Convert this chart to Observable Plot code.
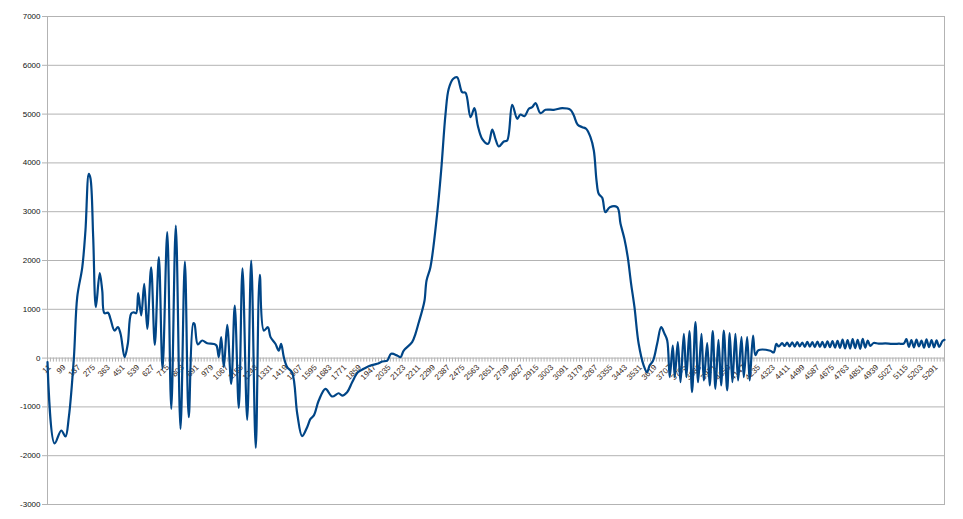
<!DOCTYPE html>
<html><head><meta charset="utf-8">
<script src="https://cdn.jsdelivr.net/npm/d3@7"></script>
<script src="https://cdn.jsdelivr.net/npm/@observablehq/plot@0.6"></script>
<style>body{margin:0;background:#fff}</style>
</head><body><div id="chart"></div>
<script>
const sampleIndex = [11,53,93,118,138,168,188,218,237,257,267,283,299,322,337,350,372,386,410,430,446,470,489,509,525,539,551,569,587,605,628,650,674,696,724,748,775,803,829,852,879,886,906,932,962,1001,1017,1031,1045,1061,1081,1105,1126,1150,1172,1200,1224,1251,1275,1299,1323,1339,1368,1388,1402,1418,1438,1468,1498,1527,1557,1577,1597,1626,1666,1706,1745,1766,1795,1825,1859,1894,1934,1974,2004,2034,2057,2093,2113,2132,2182,2202,2222,2242,2256,2268,2291,2331,2355,2381,2400,2427,2450,2480,2500,2530,2553,2573,2599,2635,2659,2678,2698,2728,2748,2778,2808,2827,2851,2877,2897,2917,2946,2976,3026,3076,3125,3145,3168,3195,3218,3244,3264,3280,3293,3314,3333,3359,3403,3423,3446,3466,3486,3506,3531,3561,3581,3596,3617,3641,3665,3685,3701,3716,3734,3746,3764,3780,3800,3815,3833,3849,3869,3885,3905,3919,3939,3954,3972,3988,4006,4022,4038,4058,4073,4089,4107,4123,4143,4157,4177,4192,4212,4226,4244,4315,4335,4351,4365,4385,4400,4415,4430,4445,4460,4475,4490,4505,4520,4535,4550,4565,4580,4595,4610,4625,4640,4655,4670,4685,4700,4715,4730,4745,4760,4775,4790,4805,4820,4835,4850,4865,4880,4895,4910,4930,4960,5000,5040,5080,5110,5125,5140,5155,5170,5185,5200,5215,5230,5245,5260,5275,5290,5305,5320,5340,5352];
const signal = [-80,-1750,-1484,-1607,-1210,0,1250,1860,2615,3775,3680,2480,1045,1740,1385,920,930,805,565,635,500,20,290,910,940,920,1330,873,1520,600,1860,272,2068,-220,2580,-1040,2717,-1450,1980,-1210,716,700,280,360,305,290,258,20,430,-185,680,-527,1078,-1020,1840,-1265,2000,-1840,1705,565,633,430,293,155,290,20,-185,-300,-1140,-1600,-1415,-1245,-1175,-870,-630,-787,-720,-767,-700,-495,-290,-220,-152,-117,-70,-50,88,53,18,155,326,498,735,975,1180,1590,1863,2957,3844,5006,5518,5723,5756,5449,5436,4936,5121,4766,4494,4391,4684,4494,4336,4439,4459,5191,4904,4992,4957,5109,5142,5224,5019,5088,5088,5121,5088,4971,4781,4732,4699,4527,4254,3639,3367,3285,2990,3092,3092,2752,2445,2068,1522,1043,293,-152,-290,-152,-50,293,633,498,360,-391,258,-391,326,-494,498,-391,551,-699,736,-494,498,-459,305,-561,551,-629,375,-561,565,-664,510,-494,498,-459,428,-391,428,-459,463,60,160,150,115,290,238,306,250,320,240,325,235,330,240,320,230,335,235,330,225,340,230,335,220,345,225,350,215,355,210,380,200,370,195,390,205,375,190,395,215,360,250,310,295,300,290,295,300,390,230,370,220,380,240,360,215,385,225,370,220,365,230,350,375];
const yTickValues = [-3000,-2000,-1000,0,1000,2000,3000,4000,5000,6000,7000];
const xTickLabels = [11,99,187,275,363,451,539,627,715,803,891,979,1067,1155,1243,1331,1419,1507,1595,1683,1771,1859,1947,2035,2123,2211,2299,2387,2475,2563,2651,2739,2827,2915,3003,3091,3179,3267,3355,3443,3531,3619,3707,3795,3883,3971,4059,4147,4235,4323,4411,4499,4587,4675,4763,4851,4939,5027,5115,5203,5291];
const xDomain = [11, 5352];
const minorTicks = d3.range(11, 5352, 17.6);

const data = sampleIndex.map((x, i) => ({x, y: signal[i]}));
const grid = "#b3b3b3";

const chart = Plot.plot({
  width: 963, height: 519,
  marginLeft: 47, marginRight: 19, marginTop: 16, marginBottom: 15,
  x: {domain: xDomain, axis: null},
  y: {domain: [-3000, 7000], axis: null},
  style: {background: "#fff", fontFamily: "'Liberation Sans', Arial, sans-serif"},
  marks: [
    Plot.ruleY(yTickValues, {stroke: grid, strokeWidth: 1}),
    Plot.frame({stroke: grid}),
    Plot.axisY({ticks: yTickValues, label: null, tickSize: 5, tickPadding: 2, stroke: grid, fill: "#111", fontSize: 8, tickFormat: d => String(d)}),
    Plot.ruleX(minorTicks, {x: d => d, y1: () => 0, y2: () => 0, insetBottom: -4, stroke: grid}),
    Plot.text(xTickLabels, {x: d => d, y: () => 0, text: d => String(d), rotate: -45, textAnchor: "end", dx: 2, dy: 8, fontSize: 8, fill: "#3a2a1a"}),
    Plot.line(data, {x: "x", y: "y", stroke: "#004586", strokeWidth: 2.2, curve: "catmull-rom"})
  ]
});
document.getElementById("chart").appendChild(chart);
</script>
</body></html>
